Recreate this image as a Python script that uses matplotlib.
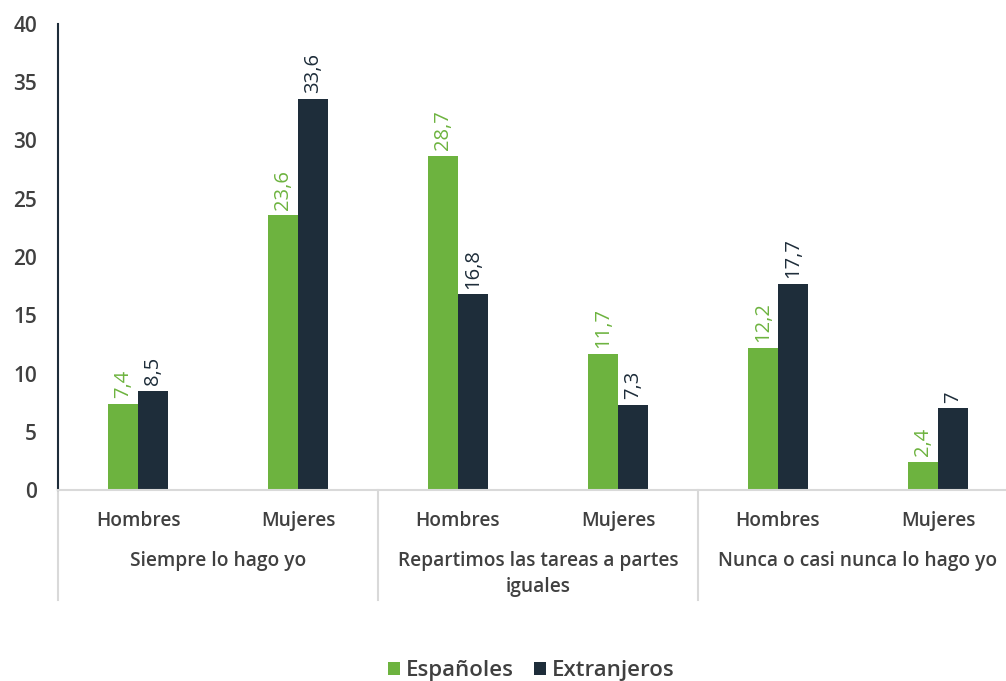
import matplotlib

matplotlib.use("Agg")
import matplotlib.pyplot as plt  # noqa: E402
import matplotlib.transforms as mtransforms  # noqa: E402

# data
groups = ["Siempre lo hago yo", "Repartimos las tareas a partes\niguales",
          "Nunca o casi nunca lo hago yo"]
sexes = ["Hombres", "Mujeres"]
espanoles = [7.4, 23.6, 28.7, 11.7, 12.2, 2.4]
extranjeros = [8.5, 33.6, 16.8, 7.3, 17.7, 7.0]
series_names = ["Españoles", "Extranjeros"]

GREEN = "#6db33f"
DARK = "#1e2d3a"
TEXT = "#404040"
LIGHT = "#d9d9d9"

plt.rcParams["font.family"] = ["Open Sans", "DejaVu Sans"]


def fmt(v):
    return f"{v:g}".replace(".", ",")


fig = plt.figure(figsize=(10.06, 6.81), dpi=100)
ax = fig.add_axes([58 / 1006, 191 / 681, 960 / 1006, 466 / 681])

labels = [s for _ in groups for s in sexes]
xs = list(range(len(labels)))
w = 0.19

bars_es = ax.bar([x - w / 2 for x in xs], espanoles, width=w, color=GREEN,
                 label=series_names[0])
bars_ex = ax.bar([x + w / 2 for x in xs], extranjeros, width=w, color=DARK,
                 label=series_names[1])

for bars, vals, col in ((bars_es, espanoles, GREEN), (bars_ex, extranjeros, DARK)):
    for b, v in zip(bars, vals):
        ax.annotate(fmt(v), (b.get_x() + b.get_width() / 2, v),
                    textcoords="offset points", xytext=(0, 4),
                    rotation=90, ha="center", va="bottom",
                    fontsize=14.5, color=col)

ax.set_xlim(-0.5, len(labels) - 0.5)
ax.set_ylim(0, 40)
ax.set_yticks(range(0, 41, 5))
ax.tick_params(axis="y", length=0, pad=15, labelsize=15, labelcolor=TEXT)
for t in ax.get_yticklabels():
    t.set_fontweight("semibold")
ax.set_xticks(xs)
ax.set_xticklabels(labels, fontsize=13.8, color=TEXT, fontweight="semibold")
ax.tick_params(axis="x", length=0, pad=15)

for side in ("top", "right"):
    ax.spines[side].set_visible(False)
ax.spines["left"].set_color(DARK)
ax.spines["left"].set_linewidth(1.5)
ax.spines["bottom"].set_color(LIGHT)
ax.spines["bottom"].set_linewidth(1.5)

trans = mtransforms.blended_transform_factory(ax.transData, ax.transAxes)
for i, g in enumerate(groups):
    ax.text(2 * i + 0.5, -0.13, g, transform=trans, ha="center", va="top",
            fontsize=13.8, color=TEXT, fontweight="semibold", linespacing=1.45)
for xb in (-0.5, 1.5, 3.5, 5.5):
    ax.plot([xb, xb], [0, -0.236], transform=trans, color=LIGHT,
            lw=1.5, clip_on=False)

fig.legend(handles=[bars_es, bars_ex], labels=series_names, loc="lower center",
           bbox_to_anchor=(0.528, -0.03), ncol=2, frameon=False,
           prop={"size": 16, "weight": "semibold"}, labelcolor=TEXT,
           handlelength=0.55, handleheight=0.55, handletextpad=0.25,
           columnspacing=0.9)

fig.savefig("out.png", dpi=100)
